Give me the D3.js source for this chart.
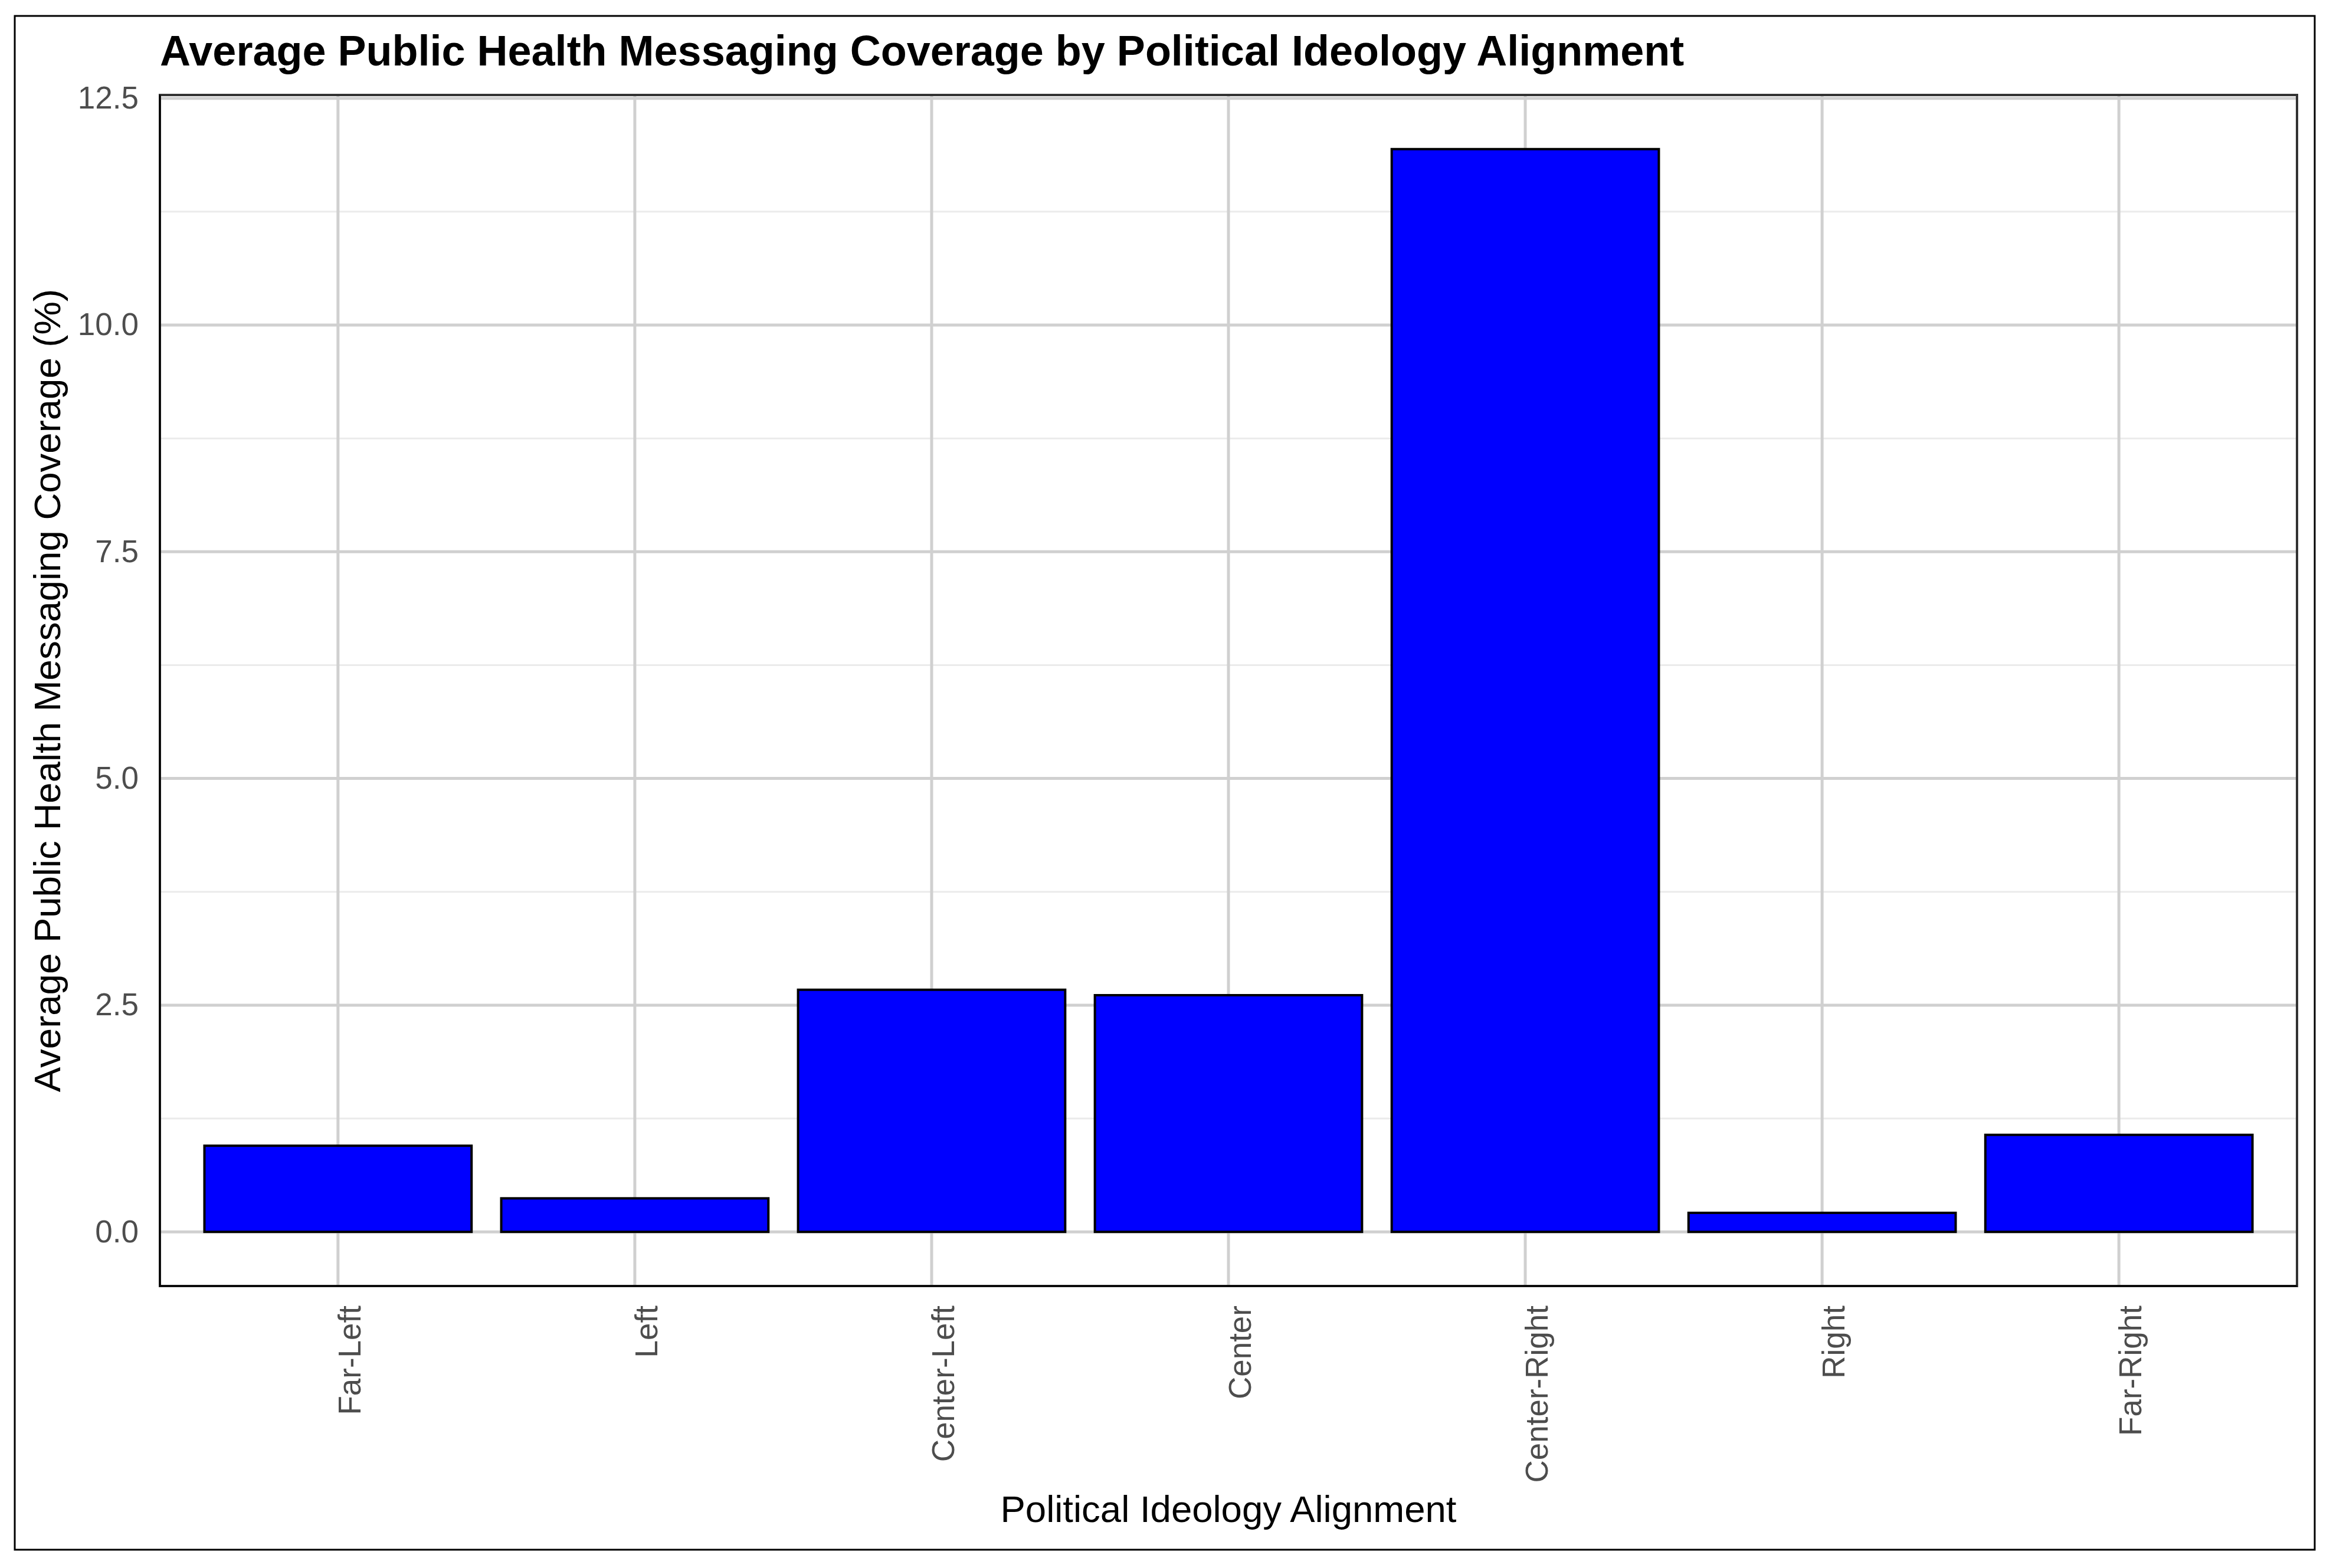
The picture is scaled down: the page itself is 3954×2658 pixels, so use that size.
<!DOCTYPE html>
<html lang="en">
<head>
    <meta charset="UTF-8">
    <title>Average Public Health Messaging Coverage by Political Ideology Alignment</title>
    <script src="https://d3js.org/d3.v7.min.js"></script>
    <style>
        body {
            margin: 0;
            padding: 0;
            background-color: #ffffff;
            font-family: "Liberation Sans", Arial, sans-serif;
        }
        svg {
            display: block;
        }
    </style>
</head>
<body>
    <div id="chart"></div>

    <script>
        // data
        const ideologies = ["Far-Left", "Left", "Center-Left", "Center", "Center-Right", "Right", "Far-Right"];
        const coverage = [0.95, 0.37, 2.67, 2.61, 11.94, 0.21, 1.07];
        const yTickValues = [0, 2.5, 5, 7.5, 10, 12.5];

        const chartTitle = "Average Public Health Messaging Coverage by Political Ideology Alignment";
        const xTitle = "Political Ideology Alignment";
        const yTitle = "Average Public Health Messaging Coverage (%)";

        const width = 3954;
        const height = 2658;
        const panel = { left: 271, right: 3893, top: 161, bottom: 2180 };

        const data = ideologies.map((d, i) => ({ ideology: d, value: coverage[i] }));

        const svg = d3.select("#chart")
            .append("svg")
            .attr("width", width)
            .attr("height", height);

        svg.append("rect")
            .attr("width", width)
            .attr("height", height)
            .attr("fill", "#ffffff");

        // outer frame round the whole plot
        svg.append("rect")
            .attr("x", 25)
            .attr("y", 27)
            .attr("width", 3923 - 25)
            .attr("height", 2627 - 27)
            .attr("fill", "none")
            .attr("stroke", "#000")
            .attr("stroke-width", 3);

        // ggplot-like scales: bar width 0.9, 0.6 units of padding at each end, 5% expansion on y
        const x = d3.scaleBand()
            .domain(ideologies)
            .range([panel.left, panel.right])
            .paddingInner(0.1)
            .paddingOuter(0.15);

        const maxVal = d3.max(coverage);
        const y = d3.scaleLinear()
            .domain([-0.05 * maxVal, 1.05 * maxVal])
            .range([panel.bottom, panel.top]);

        // grid
        const minorTicks = yTickValues.slice(1).map((t, i) => (t + yTickValues[i]) / 2);
        const grid = svg.append("g");

        grid.selectAll(".minor")
            .data(minorTicks)
            .join("line")
            .attr("x1", panel.left)
            .attr("x2", panel.right)
            .attr("y1", d => y(d))
            .attr("y2", d => y(d))
            .attr("stroke", "#ebebeb")
            .attr("stroke-width", 3);

        grid.selectAll(".major-y")
            .data(yTickValues)
            .join("line")
            .attr("x1", panel.left)
            .attr("x2", panel.right)
            .attr("y1", d => y(d))
            .attr("y2", d => y(d))
            .attr("stroke", "#d0d0d0")
            .attr("stroke-width", 5);

        grid.selectAll(".major-x")
            .data(ideologies)
            .join("line")
            .attr("x1", d => x(d) + x.bandwidth() / 2)
            .attr("x2", d => x(d) + x.bandwidth() / 2)
            .attr("y1", panel.top)
            .attr("y2", panel.bottom)
            .attr("stroke", "#d0d0d0")
            .attr("stroke-width", 5);

        // bars
        svg.append("g")
            .selectAll("rect")
            .data(data)
            .join("rect")
            .attr("x", d => x(d.ideology))
            .attr("y", d => y(d.value))
            .attr("width", x.bandwidth())
            .attr("height", d => y(0) - y(d.value))
            .attr("fill", "#0000ff")
            .attr("stroke", "#000")
            .attr("stroke-width", 4);

        // panel border: dark grey all round, black axis lines on left and bottom
        svg.append("rect")
            .attr("x", panel.left)
            .attr("y", panel.top)
            .attr("width", panel.right - panel.left)
            .attr("height", panel.bottom - panel.top)
            .attr("fill", "none")
            .attr("stroke", "#333")
            .attr("stroke-width", 4);

        svg.append("path")
            .attr("d", `M${panel.left},${panel.top}V${panel.bottom}H${panel.right}`)
            .attr("fill", "none")
            .attr("stroke", "#000")
            .attr("stroke-width", 2.5);

        // y axis labels
        const yAxis = svg.append("g")
            .attr("transform", `translate(${panel.left},0)`)
            .call(d3.axisLeft(y).tickValues(yTickValues).tickFormat(d3.format(".1f")).tickSize(0).tickPadding(36));
        yAxis.select(".domain").remove();
        yAxis.selectAll("text")
            .attr("font-family", "'Liberation Sans', Arial, sans-serif")
            .attr("font-size", 53)
            .attr("fill", "#4d4d4d");

        // x axis labels, turned upright
        const xAxis = svg.append("g")
            .attr("transform", `translate(0,${panel.bottom})`)
            .call(d3.axisBottom(x).tickSize(0));
        xAxis.select(".domain").remove();
        xAxis.selectAll("text")
            .attr("font-family", "'Liberation Sans', Arial, sans-serif")
            .attr("font-size", 53)
            .attr("fill", "#4d4d4d")
            .attr("transform", "rotate(-90)")
            .attr("text-anchor", "end")
            .attr("dy", null)
            .attr("x", -33)
            .attr("y", 38);

        // titles
        svg.append("text")
            .attr("x", panel.left)
            .attr("y", 111)
            .attr("font-size", 72)
            .attr("font-weight", "bold")
            .attr("fill", "#000")
            .text(chartTitle);

        svg.append("text")
            .attr("x", (panel.left + panel.right) / 2)
            .attr("y", 2580)
            .attr("text-anchor", "middle")
            .attr("font-size", 63.5)
            .attr("fill", "#000")
            .text(xTitle);

        svg.append("text")
            .attr("transform", `translate(102,${(panel.top + panel.bottom) / 2}) rotate(-90)`)
            .attr("text-anchor", "middle")
            .attr("font-size", 63.5)
            .attr("fill", "#000")
            .text(yTitle);
    </script>
</body>
</html>
